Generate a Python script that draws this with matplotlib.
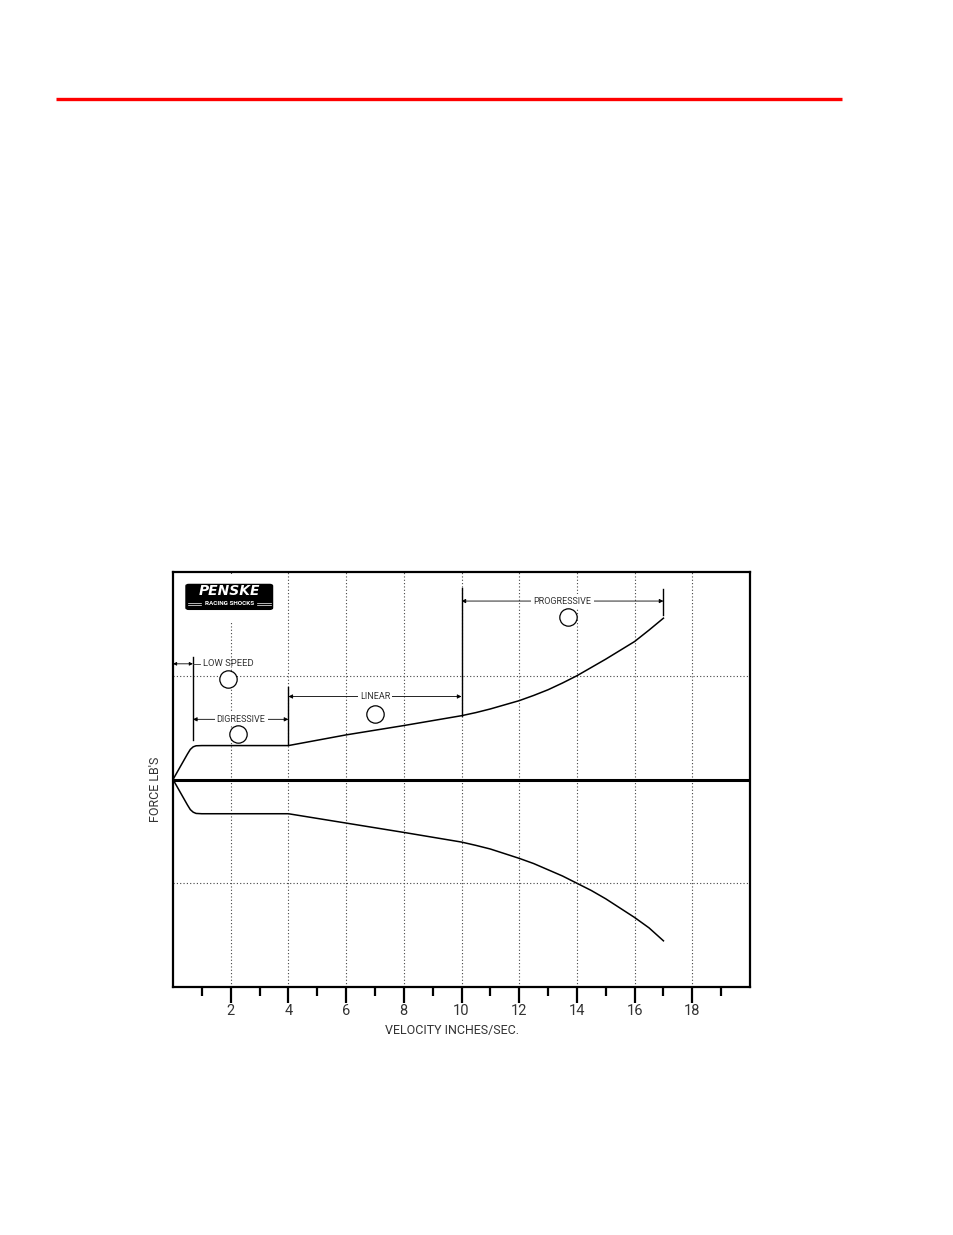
import numpy as np
import matplotlib
matplotlib.use("Agg")
import matplotlib.pyplot as plt
from matplotlib.lines import Line2D
from matplotlib.patches import FancyBboxPatch, Rectangle

plt.rcParams["font.family"] = ["Roboto", "DejaVu Sans"]

# damping curves (velocity in/sec, force in grid units)
rebound_x = [0, 0.5, 0.6, 0.7, 0.8, 1.0, 4, 6, 8, 10, 10.5, 11, 11.5, 12,
             12.5, 13, 13.5, 14, 14.5, 15, 15.5, 16, 16.5, 17]
rebound_y = [0, 0.245, 0.29, 0.315, 0.325, 0.327, 0.327, 0.43, 0.52, 0.615,
             0.645, 0.68, 0.72, 0.76, 0.81, 0.865, 0.93, 1.0, 1.08, 1.16,
             1.245, 1.33, 1.44, 1.555]
bump_x = [0, 0.5, 0.6, 0.7, 0.8, 1.0, 4, 6, 8, 10, 10.5, 11, 11.5, 12,
          12.5, 13, 13.5, 14, 14.5, 15, 15.5, 16, 16.5, 17]
bump_y = [0, -0.245, -0.29, -0.315, -0.327, -0.33, -0.33, -0.42, -0.51, -0.603,
          -0.635, -0.67, -0.715, -0.76, -0.81, -0.87, -0.93, -1.0, -1.07,
          -1.15, -1.24, -1.33, -1.43, -1.555]

major_ticks = [2, 4, 6, 8, 10, 12, 14, 16, 18]
minor_ticks = [1, 3, 5, 7, 9, 11, 13, 15, 17, 19]

# range annotations: label, start, end, arrow height, label x
ranges = [
    ("DIGRESSIVE", 0.69, 4, 0.58, 2.36),
    ("LINEAR", 4, 10, 0.80, 7.0),
    ("PROGRESSIVE", 10, 17, 1.72, 13.5),
]
# extension lines (x, y from, y to)
ext_lines = [(0.69, 1.18, 0.385), (4, 0.89, 0.33), (10, 1.85, 0.61), (17, 1.84, 1.59)]
# circles next to the labels
circles_x = [1.9, 2.25, 7.0, 13.7]
circles_y = [0.97, 0.44, 0.63, 1.57]

txt_color = "#333333"

fig = plt.figure(figsize=(9.54, 12.35), dpi=100)
fig.patch.set_facecolor("white")

# red rule at the top of the page
fig.add_artist(Line2D([56 / 954, 842 / 954], [1 - 99 / 1235, 1 - 99 / 1235],
                      color="#ff0000", lw=2.4, solid_capstyle="butt"))

ax = fig.add_axes([173 / 954, 248 / 1235, 577 / 954, 415 / 1235])
ax.set_xlim(0, 20)
ax.set_ylim(-2, 2)

# grid
for gx in major_ticks:
    ax.axvline(gx, color="#444444", lw=0.8, ls=(0, (1, 2)), zorder=1)
for gy in [-1, 1]:
    ax.axhline(gy, color="#444444", lw=0.8, ls=(0, (1, 2)), zorder=1)
ax.axhline(0, color="black", lw=2.2, zorder=3)

ax.plot(rebound_x, rebound_y, color="black", lw=1.1, zorder=4)
ax.plot(bump_x, bump_y, color="black", lw=1.1, zorder=4)

# logo
ax.add_patch(Rectangle((0.15, 1.52), 3.7, 0.46, facecolor="white",
                       edgecolor="none", zorder=2))
ax.add_patch(FancyBboxPatch((0.45, 1.64), 3.0, 0.24,
                            boxstyle="round,pad=0,rounding_size=0.1",
                            mutation_aspect=0.14,
                            facecolor="black", edgecolor="black", zorder=5))
ax.text(1.95, 1.815, "PENSKE", color="white", fontsize=10, fontweight="heavy",
        fontstyle="italic", ha="center", va="center", zorder=6,
        family=["DejaVu Sans"])
ax.text(1.95, 1.695, "RACING SHOCKS", color="white", fontsize=4.6,
        fontweight="bold", ha="center", va="center", zorder=6)
for x0, x1 in [(0.52, 0.98), (2.92, 3.38)]:
    ax.plot([x0, x1], [1.705, 1.705], color="white", lw=0.5, zorder=6)
    ax.plot([x0, x1], [1.685, 1.685], color="white", lw=0.5, zorder=6)

# extension lines
for lx, y0, y1 in ext_lines:
    ax.plot([lx, lx], [y0, y1], color="black", lw=1.0, zorder=4)

# low speed dimension
ax.annotate("", xy=(0, 1.115), xytext=(0.69, 1.115),
            arrowprops=dict(arrowstyle="<|-|>", color="black", lw=0.6,
                            mutation_scale=5, shrinkA=0, shrinkB=0), zorder=5)
ax.plot([0.69, 0.95], [1.115, 1.115], color=txt_color, lw=0.6, zorder=4)
ax.text(1.03, 1.115, "LOW SPEED", fontsize=6.8, color=txt_color,
        ha="left", va="center", zorder=6)

for label, x0, x1, yy, tx in ranges:
    ax.annotate("", xy=(x0, yy), xytext=(x1, yy),
                arrowprops=dict(arrowstyle="<|-|>", color="black", lw=0.6,
                                mutation_scale=6, shrinkA=0, shrinkB=0),
                zorder=5)
    ax.text(tx, yy, label, fontsize=6.5, color=txt_color,
            ha="center", va="center", zorder=6,
            bbox=dict(facecolor="white", edgecolor="none", pad=1.5))

ax.plot(circles_x, circles_y, "o", markersize=12.5, markerfacecolor="white",
        markeredgecolor="black", markeredgewidth=0.9, zorder=6)

# axes styling
for sp in ax.spines.values():
    sp.set_linewidth(1.6)
ax.set_yticks([])
ax.set_xticks(major_ticks)
ax.set_xticklabels([str(t) for t in major_ticks], fontsize=10.5,
                   color=txt_color)
ax.set_xticks(minor_ticks, minor=True)
ax.tick_params(axis="x", which="major", length=11.5, width=1.6, pad=1)
ax.tick_params(axis="x", which="minor", length=6.5, width=1.6)

ax.text(0.484, -0.106, "VELOCITY INCHES/SEC.", transform=ax.transAxes,
        fontsize=9, color=txt_color, ha="center", va="center")
ax.text(-0.031, 0.476, "FORCE LB'S", transform=ax.transAxes, rotation=90,
        fontsize=9, color=txt_color, ha="center", va="center")

fig.savefig("out.png", dpi=100, facecolor="white")
